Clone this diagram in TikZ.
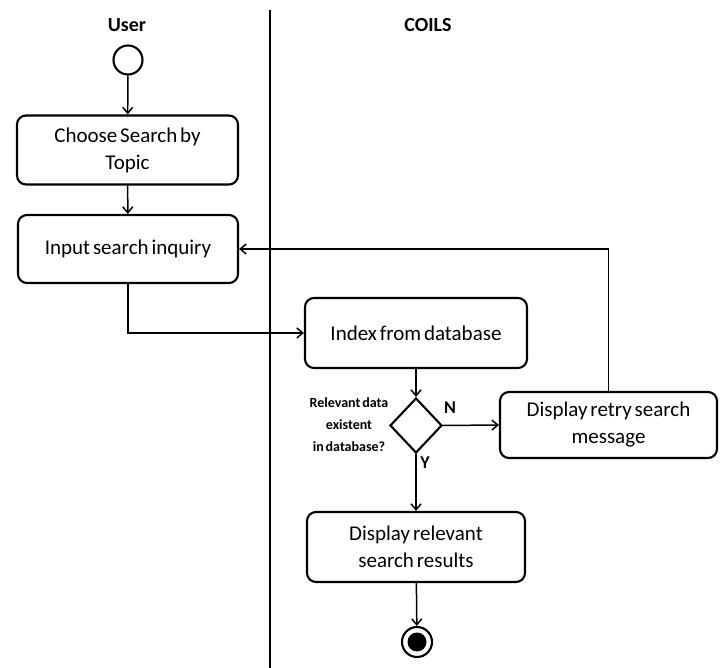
\documentclass[tikz,border=0pt]{standalone}
\usepackage{fontspec}
\setmainfont{Carlito}[WordSpace=0.6]
\usetikzlibrary{shapes.geometric,arrows.meta}
\begin{document}
\begin{tikzpicture}[x=1pt,y=-1pt,
  box/.style={draw, line width=2.1pt, rounded corners=9pt, align=center,
    font=\fontsize{21}{27}\selectfont, inner sep=0pt},
  flow/.style={line width=1.5pt, -{Straight Barb[length=6pt,width=10pt,line width=1.5pt]}},
  lane/.style={font=\bfseries\fontsize{20}{24}\selectfont},
  small/.style={font=\bfseries\fontsize{14}{22}\selectfont, align=center, inner sep=0pt},
  yn/.style={font=\bfseries\fontsize{18}{20}\selectfont, inner sep=0pt}]
\useasboundingbox (0,0) rectangle (724,668);
\draw[line width=2pt] (270,10) coordinate (dtop) -- (270,668) coordinate (dbot);
\node[lane] (user) at (127,25) {User};
\node[lane] (coils) at (428,25) {COILS};
\node[draw, circle, line width=2.1pt, minimum size=29pt, inner sep=0pt] (start) at (128,60) {};
\node[box, minimum width=221pt, minimum height=69pt] (choose) at (127.5,150) {Choose Search by\\Topic};
\node[box, minimum width=220pt, minimum height=68pt] (input) at (128,249) {Input search inquiry};
\node[box, minimum width=222pt, minimum height=70pt] (index) at (416,333) {Index from database};
\node[draw, diamond, line width=2.1pt, minimum width=52pt, minimum height=55pt, aspect=0.95, inner sep=0pt] (dec) at (416,425.5) {};
\node[small] (q) at (349,425) {Relevant data\\existent\\in database?};
\node[yn] (n) at (450,408) {N};
\node[yn] (y) at (425,463) {Y};
\node[box, minimum width=217pt, minimum height=66pt] (retry) at (608.5,425) {Display retry search\\message};
\node[box, minimum width=218pt, minimum height=70pt] (result) at (416,547) {Display relevant\\search results};
\node[draw, circle, line width=2.1pt, minimum size=30pt, inner sep=0pt] (stop) at (417,642) {};
\node[circle, fill=black, minimum size=19pt, inner sep=0pt] (stopin) at (stop.center) {};
\draw[flow] (start) -- (choose);
\draw[flow] (choose) -- (input);
\draw[flow] (input.south) |- (index.west);
\draw[flow] (index) -- (dec.north);
\draw[flow] (dec.east) -- (retry.west);
\draw[flow] (retry.north) |- (input.east);
\draw[flow] (dec.south) -- (result.north);
\draw[flow] (result) -- (stop);
\end{tikzpicture}
\end{document}
